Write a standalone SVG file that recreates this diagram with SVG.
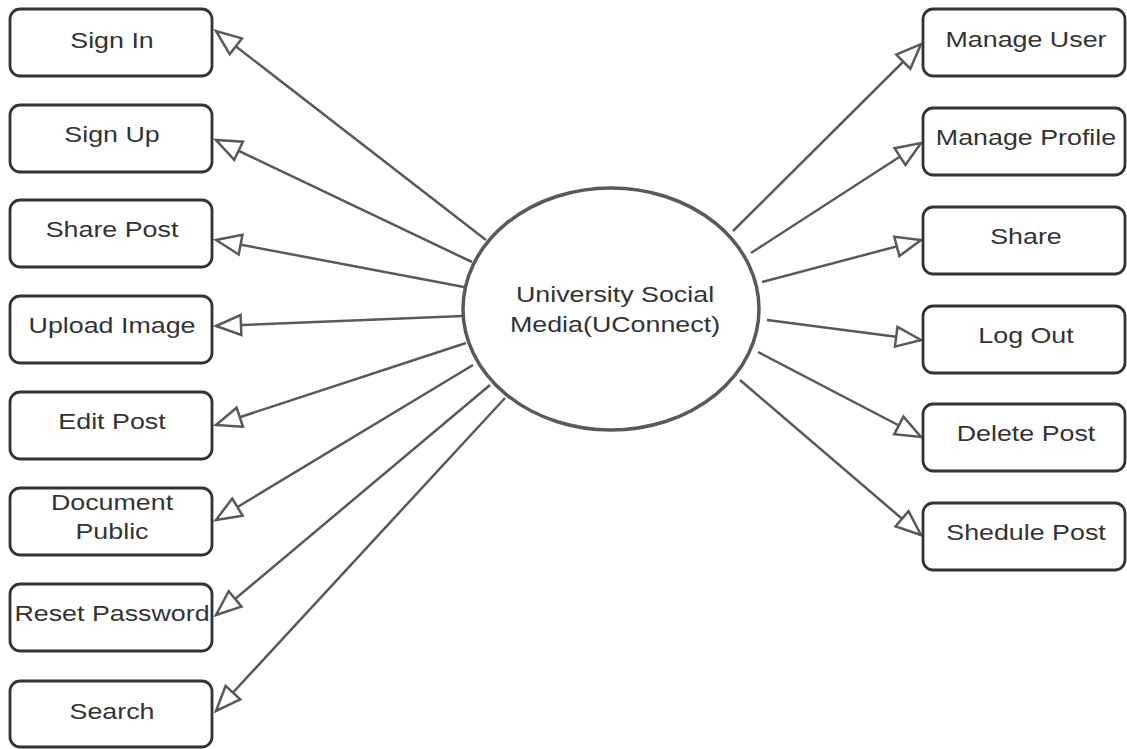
<svg xmlns="http://www.w3.org/2000/svg" width="1127" height="749" viewBox="0 0 1127 749">
<style>
.box{fill:#fff;stroke:#333;stroke-width:2.8}
.lbl{font-family:"Liberation Sans",Arial,sans-serif;font-size:22px;fill:#333;text-anchor:middle}
.conn{stroke:#595959;stroke-width:2.5;fill:none;marker-end:url(#tri)}
</style>
<defs>
<marker id="tri" markerUnits="userSpaceOnUse" markerWidth="30" markerHeight="24" refX="25" refY="10" orient="auto" viewBox="-2 -2 30 24">
<path d="M0,0 L25,10 L0,20 Z" fill="#fff" stroke="#595959" stroke-width="2.5" stroke-linejoin="miter"/>
</marker>
</defs>
<rect width="1127" height="749" fill="#fff"/>
<g id="connectors">
<line class="conn" x1="486" y1="240" x2="216" y2="31"/>
<line class="conn" x1="472" y1="262" x2="216" y2="140"/>
<line class="conn" x1="464" y1="287" x2="216" y2="240"/>
<line class="conn" x1="463" y1="316" x2="216" y2="326"/>
<line class="conn" x1="466" y1="343" x2="216" y2="425"/>
<line class="conn" x1="473" y1="365" x2="216" y2="520"/>
<line class="conn" x1="490" y1="385" x2="216" y2="615"/>
<line class="conn" x1="505" y1="398" x2="216" y2="711"/>
<line class="conn" x1="733" y1="231" x2="921" y2="44"/>
<line class="conn" x1="751" y1="253" x2="921" y2="143"/>
<line class="conn" x1="762" y1="282" x2="921" y2="240"/>
<line class="conn" x1="767" y1="320" x2="921" y2="340"/>
<line class="conn" x1="758" y1="352" x2="921" y2="437"/>
<line class="conn" x1="740" y1="380" x2="921" y2="535"/>
</g>
<g id="center">
<ellipse cx="611" cy="309" rx="148" ry="121" fill="#fff" stroke="#595959" stroke-width="3.5"/>
<text class="lbl" transform="matrix(1.22 0 0 1 615 302)">University Social</text>
<text class="lbl" transform="matrix(1.22 0 0 1 615 332)">Media(UConnect)</text>
</g>
<g id="n-signin"><rect class="box" x="10" y="9" width="202" height="67" rx="10"/><text class="lbl" transform="matrix(1.22 0 0 1 112 48)">Sign In</text></g>
<g id="n-signup"><rect class="box" x="10" y="105" width="202" height="67" rx="10"/><text class="lbl" transform="matrix(1.22 0 0 1 112 142)">Sign Up</text></g>
<g id="n-sharepost"><rect class="box" x="10" y="200" width="202" height="67" rx="10"/><text class="lbl" transform="matrix(1.22 0 0 1 112 237)">Share Post</text></g>
<g id="n-upload"><rect class="box" x="10" y="296" width="202" height="67" rx="10"/><text class="lbl" transform="matrix(1.22 0 0 1 112 333)">Upload Image</text></g>
<g id="n-editpost"><rect class="box" x="10" y="392" width="202" height="67" rx="10"/><text class="lbl" transform="matrix(1.22 0 0 1 112 429)">Edit Post</text></g>
<g id="n-document"><rect class="box" x="10" y="488" width="202" height="67" rx="10"/><text class="lbl" transform="matrix(1.22 0 0 1 112 510)">Document</text><text class="lbl" transform="matrix(1.22 0 0 1 112 539)">Public</text></g>
<g id="n-reset"><rect class="box" x="10" y="584" width="202" height="67" rx="10"/><text class="lbl" transform="matrix(1.22 0 0 1 112 621)">Reset Password</text></g>
<g id="n-search"><rect class="box" x="10" y="681" width="202" height="66" rx="10"/><text class="lbl" transform="matrix(1.22 0 0 1 112 719)">Search</text></g>
<g id="n-manageuser"><rect class="box" x="923" y="9" width="202" height="67" rx="10"/><text class="lbl" transform="matrix(1.22 0 0 1 1026 47)">Manage User</text></g>
<g id="n-manageprofile"><rect class="box" x="923" y="108" width="202" height="67" rx="10"/><text class="lbl" transform="matrix(1.22 0 0 1 1026 145)">Manage Profile</text></g>
<g id="n-share"><rect class="box" x="923" y="207" width="202" height="67" rx="10"/><text class="lbl" transform="matrix(1.22 0 0 1 1026 244)">Share</text></g>
<g id="n-logout"><rect class="box" x="923" y="306" width="202" height="67" rx="10"/><text class="lbl" transform="matrix(1.22 0 0 1 1026 343)">Log Out</text></g>
<g id="n-deletepost"><rect class="box" x="923" y="404" width="202" height="67" rx="10"/><text class="lbl" transform="matrix(1.22 0 0 1 1026 441)">Delete Post</text></g>
<g id="n-shedule"><rect class="box" x="923" y="503" width="202" height="67" rx="10"/><text class="lbl" transform="matrix(1.22 0 0 1 1026 540)">Shedule Post</text></g>
</svg>
